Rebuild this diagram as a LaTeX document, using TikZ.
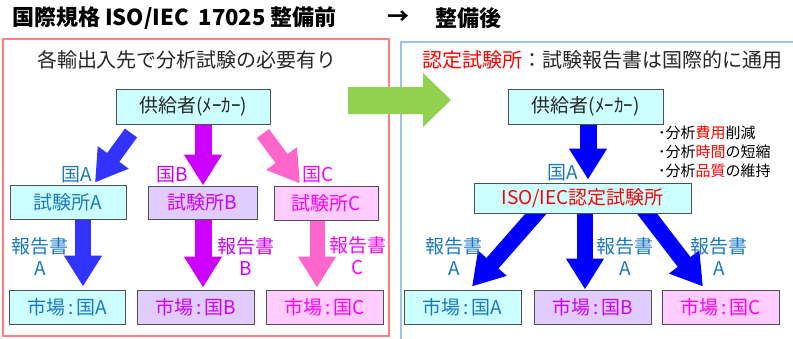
\documentclass[tikz,border=0pt]{standalone}
\usepackage{fontspec}
\setmainfont{Noto Sans CJK JP}
\usetikzlibrary{arrows.meta,calc,backgrounds}
\definecolor{tblue}{HTML}{1A78C2}
\definecolor{tmag}{HTML}{CC00FF}
\definecolor{tpink}{HTML}{FF00FF}
\definecolor{fcyan}{HTML}{CCFFFF}
\definecolor{flav}{HTML}{E0CCFF}
\definecolor{fpink}{HTML}{FFCCFF}
\definecolor{arA}{HTML}{3333FF}
\definecolor{arB}{HTML}{CC00FF}
\definecolor{arC}{HTML}{FF66CC}
\definecolor{arR}{HTML}{0000FF}
\definecolor{gr}{HTML}{92D050}
\definecolor{frL}{HTML}{FF8080}
\definecolor{frR}{HTML}{9DC3E6}
\definecolor{bord}{HTML}{505050}
\definecolor{headtxt}{HTML}{262626}
\begin{document}
\begin{tikzpicture}[x=1pt,y=-1pt,
  box/.style={draw=bord, line width=1pt, inner sep=0pt, font=\fontsize{19}{21}\selectfont},
  lbl/.style={inner sep=0pt, font=\fontsize{19}{22}\selectfont, align=center},
  head/.style={inner sep=0pt, font=\fontsize{20}{22}\selectfont, text=headtxt},
  ttl/.style={inner sep=0pt, font=\fontsize{22}{24}\selectfont\bfseries},
  bullet/.style={anchor=west, inner sep=0pt, font=\fontsize{15}{17}\selectfont},
  bigarrow/.style={line width=16pt, -{Triangle[length=31pt,width=36pt]}},
]
\useasboundingbox (0,0) rectangle (793,338);

% frames
\draw[frL, line width=1.2pt] (3,39) rectangle (389,336);
\draw[frR, line width=1.2pt] (800,42) -- (401,42) -- (401,350);

% title
\node[ttl, anchor=west] (t1) at (12,18) {国際規格 ISO/IEC\ \ 17025\ 整備前};
\node[ttl] (t2) at (398,18) {→};
\node[ttl, anchor=west] (t3) at (435,18) {整備後};

% green arrow
\fill[gr] (348,87) -- (423,87) -- (423,73) -- (451,100) -- (423,127) -- (423,114) -- (348,114) -- cycle;

% headings
\node[head] (h1) at (187,60) {各輸出入先で分析試験の必要有り};
\node[head] (h2) at (602,60) {\textcolor{red}{認定試験所}：試験報告書は国際的に通用};

% left boxes
\node[box, fill=fcyan, text=headtxt, minimum width=154pt, minimum height=35pt] (sup1) at (193,106.5) {供給者(ﾒｰｶｰ)};
\node[box, fill=fcyan, text=tblue, minimum width=116pt, minimum height=34pt] (labA) at (68,202) {試験所A};
\node[box, fill=flav, text=tmag, minimum width=109pt, minimum height=33pt] (labB) at (202.5,202.5) {試験所B};
\node[box, fill=fpink, text=tpink, minimum width=104pt, minimum height=34pt] (labC) at (326,203) {試験所C};
\node[box, fill=fcyan, text=tblue, minimum width=116pt, minimum height=34pt] (mktA) at (67,307) {市場\hspace{3pt}:\hspace{3pt}国A};
\node[box, fill=flav, text=tmag, minimum width=117pt, minimum height=34pt] (mktB) at (195.5,307) {市場\hspace{3pt}:\hspace{3pt}国B};
\node[box, fill=fpink, text=tpink, minimum width=117pt, minimum height=34pt] (mktC) at (324.5,307) {市場\hspace{3pt}:\hspace{3pt}国C};

% right boxes
\node[box, fill=fcyan, text=headtxt, minimum width=155pt, minimum height=35pt] (sup2) at (585.5,106.5) {供給者(ﾒｰｶｰ)};
\node[box, fill=fcyan, text=red, minimum width=217pt, minimum height=30pt] (iso) at (582.5,198) {ISO/IEC認定試験所};
\node[box, fill=fcyan, text=tblue, minimum width=117pt, minimum height=34pt] (rmA) at (462.5,307) {市場\hspace{3pt}:\hspace{3pt}国A};
\node[box, fill=flav, text=tmag, minimum width=117pt, minimum height=34pt] (rmB) at (592.5,307) {市場\hspace{3pt}:\hspace{3pt}国B};
\node[box, fill=fpink, text=tpink, minimum width=117pt, minimum height=34pt] (rmC) at (720.5,307) {市場\hspace{3pt}:\hspace{3pt}国C};

% labels
\node[lbl, text=tblue] (cA) at (77,175) {国A};
\node[lbl, text=tmag] (cB) at (172,175) {国B};
\node[lbl, text=tpink] (cC) at (318,175) {国C};
\node[lbl, text=tblue] (rA) at (40,256) {報告書\\A};
\node[lbl, text=tmag] (rB) at (246,256) {報告書\\B};
\node[lbl, text=tpink] (rC) at (358,256) {報告書\\C};
\node[lbl, text=tblue] (cR) at (563,173) {国A};
\node[lbl, text=tblue] (r1) at (454,256) {報告書\\A};
\node[lbl, text=tblue] (r2) at (625,256) {報告書\\A};
\node[lbl, text=tblue] (r3) at (719,256) {報告書\\A};

% bullets
\node[bullet] (p1) at (658,133) {･分析\textcolor{red}{費用}削減};
\node[bullet] (p2) at (658,152) {･分析\textcolor{red}{時間}の短縮};
\node[bullet] (p3) at (658,171) {･分析\textcolor{red}{品質}の維持};

% arrows
\begin{pgfonlayer}{background}
\draw[bigarrow, arA, line width=15pt] ($(sup1.south)+(-62,8.5)$) -- ($(labA.north)+(27,-2)$);
\draw[bigarrow, arB, line width=17pt] ($(sup1.south)+(10,0)$) -- ($(labB.north)+(0.5,0)$);
\draw[bigarrow, arC, line width=15pt] ($(sup1.south)+(70,9)$) -- ($(labC.north)+(-26,-2)$);
\draw[bigarrow, arA] ($(labA.south)+(15,0)$) -- ($(labA.south |- mktA.north)+(15,-3)$);
\draw[bigarrow, arB, line width=17pt] ($(labB.south)+(0.5,0)$) -- ($(labB.south |- mktB.north)+(0.5,-2)$);
\draw[bigarrow, arC, line width=15pt] ($(labC.south)+(-9,0)$) -- ($(labC.south |- mktC.north)+(-9,-2)$);
\draw[bigarrow, arR, line width=17pt] ($(sup2.south)+(2.5,0)$) -- ($(iso.north)+(5.5,-3)$);
\draw[bigarrow, arR] ($(iso.south)+(-38.5,-9)$) -- ($(rmA.north)+(9.5,-3)$);
\draw[bigarrow, arR] ($(iso.south)+(2.5,-9)$) -- ($(rmB.north)+(-7.5,0)$);
\draw[bigarrow, arR] ($(iso.south)+(57.5,-9)$) -- ($(rmC.north)+(-17.5,-3)$);
\end{pgfonlayer}
\end{tikzpicture}
\end{document}
